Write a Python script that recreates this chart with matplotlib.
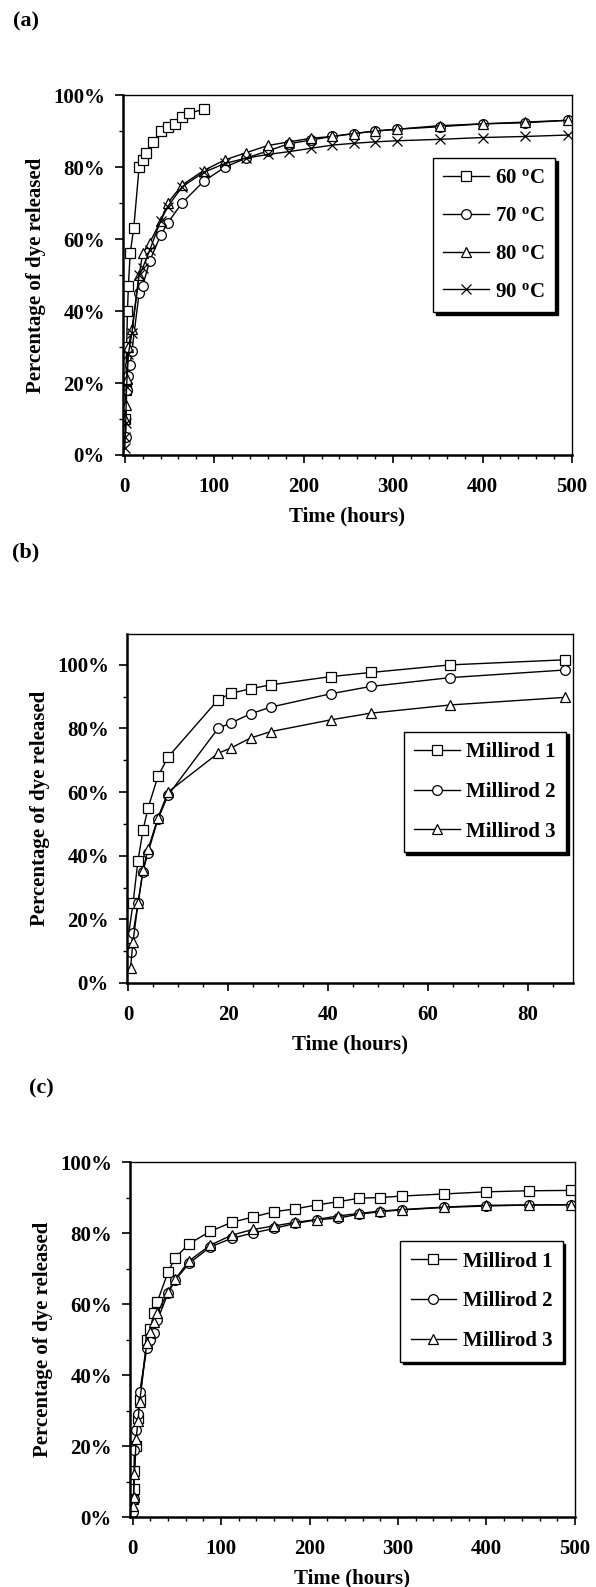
import matplotlib
matplotlib.use('Agg')
import matplotlib.pyplot as plt
from matplotlib.ticker import MultipleLocator, PercentFormatter

plt.rcParams['font.family'] = ['Liberation Serif', 'DejaVu Serif']
plt.rcParams['font.weight'] = 'bold'
plt.rcParams['mathtext.fontset'] = 'custom'
plt.rcParams['mathtext.rm'] = 'Liberation Serif:bold'
plt.rcParams['mathtext.it'] = 'Liberation Serif:bold'
plt.rcParams['mathtext.bf'] = 'Liberation Serif:bold'

# ---- panel (a): temperature series ----
t60 = [0.5, 1, 2, 3, 4, 6, 10, 16, 20, 24, 32, 40, 48, 56, 64, 72, 88]
y60 = [0.10, 0.18, 0.30, 0.40, 0.47, 0.56, 0.63, 0.80, 0.82, 0.84, 0.87, 0.90, 0.91, 0.92, 0.94, 0.95, 0.96]

t70 = [1, 2, 4, 6, 8, 16, 20, 28, 40, 48, 64, 88, 112, 136, 160, 184, 208, 232, 256, 280, 304, 352, 400, 448, 496]
y70 = [0.05, 0.18, 0.22, 0.25, 0.29, 0.45, 0.47, 0.54, 0.61, 0.645, 0.70, 0.76, 0.80, 0.825, 0.845, 0.865,
       0.875, 0.885, 0.893, 0.90, 0.905, 0.912, 0.92, 0.923, 0.93]

t80 = [0.5, 1, 2, 4, 8, 16, 20, 28, 40, 48, 64, 88, 112, 136, 160, 184, 208, 232, 256, 280, 304, 352, 400, 448, 496]
y80 = [0.10, 0.14, 0.21, 0.30, 0.35, 0.50, 0.56, 0.59, 0.65, 0.70, 0.75, 0.79, 0.82, 0.84, 0.86, 0.87,
       0.88, 0.885, 0.893, 0.90, 0.905, 0.915, 0.92, 0.925, 0.93]

t90 = [0, 0.5, 1, 2, 4, 8, 16, 20, 28, 40, 48, 64, 88, 112, 136, 160, 184, 208, 232, 256, 280, 304, 352, 400, 448, 496]
y90 = [0.02, 0.05, 0.09, 0.19, 0.28, 0.34, 0.50, 0.52, 0.57, 0.65, 0.69, 0.745, 0.785, 0.81, 0.825, 0.835,
       0.843, 0.852, 0.861, 0.866, 0.87, 0.873, 0.877, 0.882, 0.885, 0.889]

# ---- panel (b): millirods, first 88 h ----
tb1 = [0, 1, 2, 3, 4, 6, 8, 18, 20.5, 24.5, 28.5, 40.5, 48.5, 64.5, 87.5]
tb = [0.5, 1, 2, 3, 4, 6, 8, 18, 20.5, 24.5, 28.5, 40.5, 48.5, 64.5, 87.5]
yb1 = [0.14, 0.25, 0.385, 0.48, 0.55, 0.65, 0.71, 0.89, 0.91, 0.925, 0.937, 0.963, 0.976, 1.00, 1.016]
yb2 = [0.098, 0.156, 0.25, 0.35, 0.41, 0.515, 0.59, 0.80, 0.817, 0.846, 0.867, 0.909, 0.932, 0.96, 0.984]
yb3 = [0.046, 0.13, 0.25, 0.355, 0.42, 0.52, 0.60, 0.722, 0.738, 0.77, 0.79, 0.827, 0.848, 0.874, 0.898]

# ---- panel (c): millirods, 500 h ----
tc = [0, 1, 2, 4, 6, 8, 16, 20, 24, 28, 40, 48, 64, 88, 112, 136, 160, 184, 208, 232, 256, 280, 304, 352, 400, 448, 496]
yc1 = [0.05, 0.08, 0.13, 0.20, 0.28, 0.33, 0.50, 0.53, 0.575, 0.607, 0.69, 0.73, 0.77, 0.805, 0.83, 0.845,
       0.86, 0.868, 0.879, 0.888, 0.898, 0.90, 0.904, 0.91, 0.916, 0.919, 0.92]
yc2 = [0.015, 0.05, 0.19, 0.245, 0.29, 0.353, 0.475, 0.50, 0.518, 0.555, 0.63, 0.667, 0.715, 0.761, 0.785, 0.80,
       0.813, 0.827, 0.837, 0.842, 0.853, 0.86, 0.865, 0.872, 0.876, 0.879, 0.879]
yc3 = [0.03, 0.057, 0.12, 0.22, 0.27, 0.325, 0.49, 0.52, 0.55, 0.575, 0.635, 0.67, 0.722, 0.766, 0.794, 0.81,
       0.82, 0.83, 0.838, 0.848, 0.855, 0.862, 0.866, 0.873, 0.878, 0.879, 0.88]

mill_labels = ['Millirod 1', 'Millirod 2', 'Millirod 3']
temp_labels = ['60 $^{\\mathrm{o}}$C', '70 $^{\\mathrm{o}}$C', '80 $^{\\mathrm{o}}$C', '90 $^{\\mathrm{o}}$C']

fig = plt.figure(figsize=(5.96, 15.87), dpi=100)

TICK_FS = 15
LAB_FS = 15


def style(ax, xlim, ylim, xmaj, xmin):
    ax.set_xlim(*xlim)
    ax.set_ylim(*ylim)
    ax.xaxis.set_major_locator(MultipleLocator(xmaj))
    ax.xaxis.set_minor_locator(MultipleLocator(xmin))
    ax.yaxis.set_major_locator(MultipleLocator(0.2))
    ax.yaxis.set_minor_locator(MultipleLocator(0.1))
    ax.yaxis.set_major_formatter(PercentFormatter(1.0, decimals=0))
    ax.tick_params(which='major', direction='out', length=6, width=1.2, labelsize=TICK_FS)
    ax.tick_params(which='minor', direction='out', length=3, width=1)
    ax.tick_params(axis='x', which='major', pad=10)
    ax.tick_params(axis='y', which='major', pad=7)
    for lab in ax.get_xticklabels() + ax.get_yticklabels():
        lab.set_fontweight('bold')
    ax.spines['left'].set_linewidth(1.8)
    ax.spines['bottom'].set_linewidth(1.8)
    ax.spines['top'].set_linewidth(1.0)
    ax.spines['right'].set_linewidth(1.0)
    ax.set_xlabel('Time (hours)', fontsize=LAB_FS, fontweight='bold', labelpad=7)
    ax.set_ylabel('Percentage of dye released', fontsize=LAB_FS, fontweight='bold', labelpad=5)


def legend(ax, anchor, spacing):
    leg = ax.legend(loc='upper left', bbox_to_anchor=anchor, frameon=True, fancybox=False,
                    shadow={'color': 'black', 'alpha': 1.0}, edgecolor='black',
                    prop={'family': 'Liberation Serif', 'weight': 'bold', 'size': 15},
                    handlelength=2.2, handletextpad=0.3, labelspacing=spacing,
                    borderpad=0.5, borderaxespad=0)
    leg.get_frame().set_linewidth(1.0)


mk = dict(color='black', mfc='white', mec='black', lw=1.0, ms=7, mew=0.9)

# (a)
ax1 = fig.add_axes([0.2064, 0.7133, 0.7533, 0.2268])
ax1.plot(t60, y60, marker='s', label=temp_labels[0], **mk)
ax1.plot(t70, y70, marker='o', label=temp_labels[1], **mk)
ax1.plot(t80, y80, marker='^', label=temp_labels[2], **mk)
ax1.plot(t90, y90, marker='x', label=temp_labels[3], **mk)
style(ax1, (-2, 500), (0, 1.0), 100, 20)
legend(ax1, (0.69, 0.825), 0.85)

# (b)
ax2 = fig.add_axes([0.2131, 0.3806, 0.7483, 0.2199])
ax2.plot(tb1, yb1, marker='s', label=mill_labels[0], **mk)
ax2.plot(tb, yb2, marker='o', label=mill_labels[1], **mk)
ax2.plot(tb, yb3, marker='^', label=mill_labels[2], **mk)
style(ax2, (-0.2, 89), (0, 1.097), 20, 5)
legend(ax2, (0.62, 0.72), 0.95)

# (c)
ax3 = fig.add_axes([0.2181, 0.0441, 0.7466, 0.2237])
ax3.plot(tc, yc1, marker='s', label=mill_labels[0], **mk)
ax3.plot(tc, yc2, marker='o', label=mill_labels[1], **mk)
ax3.plot(tc, yc3, marker='^', label=mill_labels[2], **mk)
style(ax3, (-3, 500), (0, 1.0), 100, 20)
legend(ax3, (0.607, 0.777), 0.95)

fig.text(26 / 596, 1 - 21 / 1587, '(a)', fontsize=16, fontweight='bold', ha='center', va='center')
fig.text(26 / 596, 1 - 552 / 1587, '(b)', fontsize=16, fontweight='bold', ha='center', va='center')
fig.text(41 / 596, 1 - 1088 / 1587, '(c)', fontsize=16, fontweight='bold', ha='center', va='center')

fig.savefig('out.png', dpi=100)
